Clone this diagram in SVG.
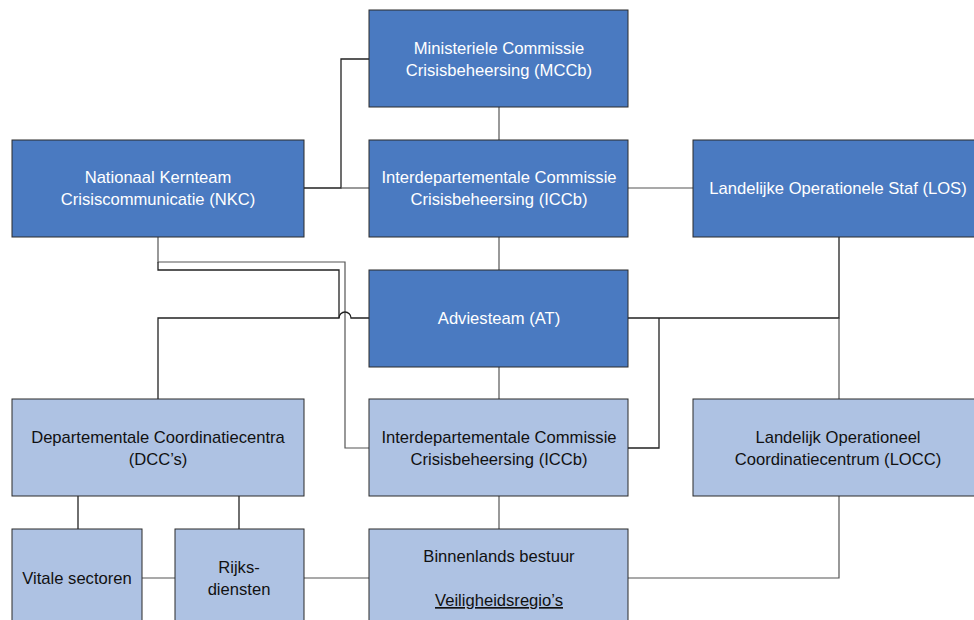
<svg xmlns="http://www.w3.org/2000/svg" width="974" height="620" viewBox="0 0 974 620">
<style>
.dk{fill:#4A7AC1;stroke:#2b2b2b;stroke-width:1}
.lt{fill:#AEC2E3;stroke:#2b2b2b;stroke-width:1}
.tw{font-family:"Liberation Sans",Arial,sans-serif;font-size:16.6px;fill:#ffffff;text-anchor:middle}
.tb{font-family:"Liberation Sans",Arial,sans-serif;font-size:16.6px;fill:#111111;text-anchor:middle}
.c{fill:none;stroke:#222;stroke-width:1.3}
.g{fill:none;stroke:#555;stroke-width:1.2}
</style>
<rect width="974" height="620" fill="#ffffff"/>
<g id="connectors">
<path class="c" d="M369,59 H341 V188 H304"/>
<path class="g" d="M341,188 H369"/>
<path class="g" d="M628,188 H693"/>
<path class="g" d="M499,107 V140"/>
<path class="g" d="M499,237 V270"/>
<path class="g" d="M499,367 V399"/>
<path class="g" d="M499,496 V529"/>
<path class="c" d="M839,237 V318 H628"/>
<path class="g" d="M839,318 V399"/>
<path class="c" d="M659,318 V448 H628"/>
<path class="g" d="M158,237 V262 H345 V448 H369"/>
<path class="c" d="M158,262 V270 H339 V318"/>
<path class="c" d="M158,399 V318 H339 A6,6 0 0 1 351,318 H369"/>
<path class="c" d="M78,496 V529"/>
<path class="c" d="M239,496 V529"/>
<path class="g" d="M142,578 H175"/>
<path class="g" d="M304,578 H369"/>
<path class="g" d="M628,578 H839 V496"/>
</g>
<g id="mccb"><rect class="dk" x="369" y="10" width="259" height="97"/>
<text class="tw" x="499" y="54">Ministeriele Commissie</text><text class="tw" x="499" y="76">Crisisbeheersing (MCCb)</text></g>
<g id="nkc"><rect class="dk" x="12" y="140" width="292" height="97"/>
<text class="tw" x="158" y="183">Nationaal Kernteam</text><text class="tw" x="158" y="205">Crisiscommunicatie (NKC)</text></g>
<g id="iccb"><rect class="dk" x="369" y="140" width="259" height="97"/>
<text class="tw" x="499" y="183">Interdepartementale Commissie</text><text class="tw" x="499" y="205">Crisisbeheersing (ICCb)</text></g>
<g id="los"><rect class="dk" x="693" y="140" width="291" height="97"/>
<text class="tw" x="838" y="194">Landelijke Operationele Staf (LOS)</text></g>
<g id="at"><rect class="dk" x="369" y="270" width="259" height="97"/>
<text class="tw" x="499" y="324">Adviesteam (AT)</text></g>
<g id="dcc"><rect class="lt" x="12" y="399" width="292" height="97"/>
<text class="tb" x="158" y="443">Departementale Coordinatiecentra</text><text class="tb" x="158" y="465">(DCC’s)</text></g>
<g id="iccb2"><rect class="lt" x="369" y="399" width="259" height="97"/>
<text class="tb" x="499" y="443">Interdepartementale Commissie</text><text class="tb" x="499" y="465">Crisisbeheersing (ICCb)</text></g>
<g id="locc"><rect class="lt" x="693" y="399" width="291" height="97"/>
<text class="tb" x="838" y="443">Landelijk Operationeel</text><text class="tb" x="838" y="465">Coordinatiecentrum (LOCC)</text></g>
<g id="vitale"><rect class="lt" x="12" y="529" width="130" height="100"/>
<text class="tb" x="77" y="584">Vitale sectoren</text></g>
<g id="rijks"><rect class="lt" x="175" y="529" width="129" height="100"/>
<text class="tb" x="239" y="573">Rijks-</text><text class="tb" x="239" y="595">diensten</text></g>
<g id="binnenlands"><rect class="lt" x="369" y="529" width="259" height="100"/>
<text class="tb" x="499" y="562">Binnenlands bestuur</text><text class="tb" x="499" y="606" text-decoration="underline">Veiligheidsregio’s</text></g>
</svg>
